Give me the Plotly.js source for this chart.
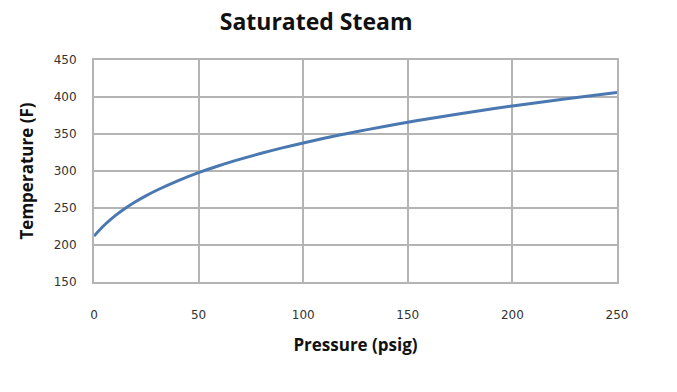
<!DOCTYPE html>
<html><head><meta charset="utf-8">
<script src="https://cdn.plot.ly/plotly-3.0.1.min.js"></script>
<style>html,body{margin:0;padding:0;background:#fff}</style>
</head><body><div id="chart" style="width:677px;height:392px"></div>
<script>
const pressure = [0, 5, 10, 15, 20, 25, 30, 40, 50, 60, 70, 80, 90, 100, 110, 120, 130, 140, 150, 160, 175, 200, 225, 250];
const temperature = [212, 227, 239.4, 249.7, 258.8, 266.8, 274, 286.7, 297.7, 307.4, 316, 323.9, 331.2, 337.9, 344.2, 350.1, 355.6, 360.9, 365.9, 370.7, 377.4, 387.9, 397.4, 406.1];
const xTicks = [0, 50, 100, 150, 200, 250];
const yTicks = [150, 200, 250, 300, 350, 400, 450];

const trace = {x: pressure, y: temperature, mode: 'lines', type: 'scatter',
  line: {color: '#4a78b0', width: 3, shape: 'spline'}, hoverinfo: 'skip'};

const layout = {
  width: 677, height: 392,
  margin: {l: 94, r: 60, t: 60, b: 110},
  paper_bgcolor: '#fff', plot_bgcolor: '#fff',
  showlegend: false,
  title: {text: 'Saturated Steam', x: 0.467, xanchor: 'center', y: 0.945, yanchor: 'middle',
    font: {family: 'Open Sans, sans-serif', size: 23, color: '#111', weight: 'bold'}},
  xaxis: {range: [0, 250], tickvals: xTicks, ticktext: xTicks.map(String),
    showgrid: true, gridcolor: '#b4b4b4', gridwidth: 2, zeroline: false,
    showline: true, linecolor: '#b4b4b4', linewidth: 2, mirror: true,
    ticks: '', ticklabelstandoff: 21,
    tickfont: {family: 'DejaVu Sans, sans-serif', size: 12, color: '#333'},
    title: {text: 'Pressure (psig)', standoff: 18,
      font: {family: 'Open Sans, sans-serif', size: 17, color: '#111', weight: 'bold'}}},
  yaxis: {range: [150, 450], tickvals: yTicks, ticktext: yTicks.map(String),
    showgrid: true, gridcolor: '#b4b4b4', gridwidth: 2, zeroline: false,
    showline: true, linecolor: '#b4b4b4', linewidth: 2, mirror: true,
    ticks: '', ticklabelstandoff: 13,
    tickfont: {family: 'DejaVu Sans, sans-serif', size: 12, color: '#333'},
    title: {text: 'Temperature (F)', standoff: 16,
      font: {family: 'Open Sans, sans-serif', size: 17, color: '#111', weight: 'bold'}}}
};
Plotly.newPlot('chart', [trace], layout, {displayModeBar: false, staticPlot: true});
</script></body></html>
